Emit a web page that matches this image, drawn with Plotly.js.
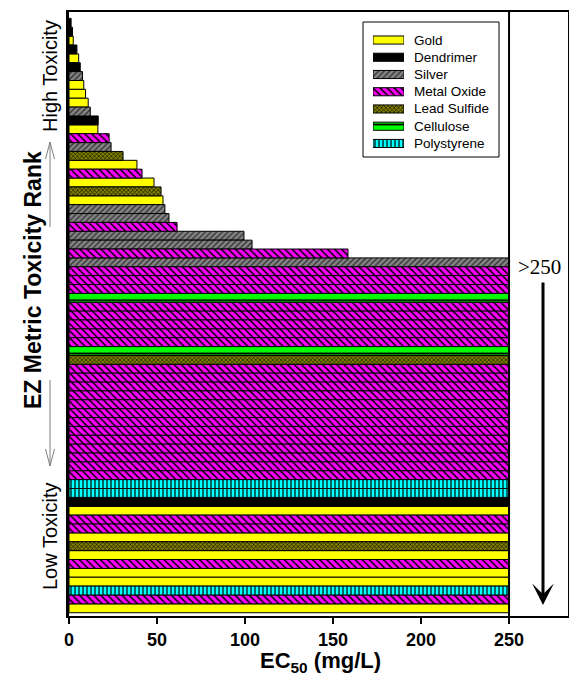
<!DOCTYPE html>
<html><head><meta charset="utf-8">
<script src="https://cdn.plot.ly/plotly-3.0.1.min.js"></script>
<style>html,body{margin:0;padding:0;background:#fff}#chart{width:569px;height:681px}</style>
</head><body><div id="chart"></div>
<script>
// ---- data ----
const materials = ["Gold","Dendrimer","Silver","Metal Oxide","Lead Sulfide","Cellulose","Polystyrene"];
// material of each ranked bar, from most toxic (rank 1, top) to least toxic (bottom)
const rankMaterial = [
  "Dendrimer","Dendrimer","Gold","Dendrimer","Gold","Dendrimer","Silver","Gold","Gold","Gold",
  "Silver","Dendrimer","Gold","Metal Oxide","Silver","Lead Sulfide","Gold","Metal Oxide","Gold","Lead Sulfide",
  "Gold","Silver","Silver","Metal Oxide","Silver","Silver","Metal Oxide","Silver","Metal Oxide","Metal Oxide",
  "Metal Oxide","Cellulose","Metal Oxide","Metal Oxide","Metal Oxide","Metal Oxide","Metal Oxide","Cellulose","Lead Sulfide","Metal Oxide",
  "Metal Oxide","Metal Oxide","Metal Oxide","Metal Oxide","Metal Oxide","Metal Oxide","Metal Oxide","Metal Oxide","Metal Oxide","Metal Oxide",
  "Metal Oxide","Metal Oxide","Polystyrene","Polystyrene","Dendrimer","Gold","Metal Oxide","Metal Oxide","Gold","Lead Sulfide",
  "Gold","Metal Oxide","Gold","Gold","Polystyrene","Metal Oxide","Gold"
];
// EC50 (mg/L); values > 250 are drawn at 250
const ec50 = [
  1.2, 2.0, 2.4, 4.5, 5.5, 6.4, 7.7, 8.4, 9.4, 10.9,
  12.1, 16.6, 16.4, 22.8, 23.9, 30.7, 38.6, 41.5, 48.3, 52.3,
  53.4, 54.5, 56.8, 61.4, 99.4, 104, 158.5, 250, 250, 250,
  250, 250, 250, 250, 250, 250, 250, 250, 250, 250,
  250, 250, 250, 250, 250, 250, 250, 250, 250, 250,
  250, 250, 250, 250, 250, 250, 250, 250, 250, 250,
  250, 250, 250, 250, 250, 250, 250
];
const xTickVals = [0, 50, 100, 150, 200, 250];
const xTickText = ["0", "50", "100", "150", "200", "250"];

// ---- styles ----
const styles = {
  "Gold":        {bg:"#FFFF00", fg:"#000000", shape:"",   size:8, sol:0.3},
  "Dendrimer":   {bg:"#000000", fg:"#000000", shape:"",   size:8, sol:0.3},
  "Silver":      {bg:"#858585", fg:"#333333", shape:"/",  size:4, sol:0.35},
  "Metal Oxide": {bg:"#FF00FF", fg:"#000000", shape:"\\", size:5, sol:0.3},
  "Lead Sulfide":{bg:"#808000", fg:"#000000", shape:"x",  size:3, sol:0.35},
  "Cellulose":   {bg:"#00FF00", fg:"#000000", shape:"-",  size:8.87, sol:0.2},
  "Polystyrene": {bg:"#00FFFF", fg:"#000000", shape:"|",  size:4, sol:0.3}
};

const L = 69, R = 568, T = 12, B = 616;
const px2x = p => (p - L) / (R - L);
const py2y = p => (B - p) / (B - T);
const FONT = "Liberation Sans, Arial, Helvetica, sans-serif";

function mk(m, xs, ys, xa, ya, w) {
  const s = styles[m];
  return {
    type: "bar", orientation: "h", name: m, x: xs, y: ys, width: w,
    xaxis: xa, yaxis: ya, showlegend: false, hoverinfo: "skip",
    marker: {
      color: s.bg,
      line: {color: "#000", width: 1},
      pattern: {shape: s.shape, fgcolor: s.fg, bgcolor: s.bg, size: s.size, solidity: s.sol, fillmode: "replace"}
    }
  };
}

const traces = [];
materials.forEach(m => {
  const xs = [], ys = [];
  rankMaterial.forEach((mm, i) => { if (mm === m) { xs.push(ec50[i]); ys.push(i + 1); } });
  traces.push(mk(m, xs, ys, "x", "y", 1));
});
// legend swatches drawn on a small second axis
materials.forEach((m, i) => traces.push(mk(m, [1], [i], "x2", "y2", 0.47)));

const legTop = 31.4, legPitch = 17.24;
function txt(x, y, text, font, extra) {
  return Object.assign({xref:"paper", yref:"paper", x:px2x(x), y:py2y(y), xanchor:"center", yanchor:"middle",
    showarrow:false, text:text, font:font}, extra || {});
}
const annotations = materials.map((m, i) =>
  txt(412, legTop + (i + 0.5) * legPitch, m, {family: FONT, size: 13.5, color: "#000"}, {xanchor: "left"}));
annotations.push(
  txt(320, 662, "EC<sub>50</sub> (mg/L)", {family:FONT, size:22, weight:"bold", color:"#000"}),
  txt(33, 280, "EZ Metric Toxicity Rank", {family:FONT, size:23, weight:"bold", color:"#000"}, {textangle:-90}),
  txt(50, 76, "High Toxicity", {family:FONT, size:20, color:"#000"}, {textangle:-90}),
  txt(50, 537, "Low Toxicity", {family:FONT, size:20, color:"#000"}, {textangle:-90}),
  txt(539, 267, ">250", {family:"Liberation Serif, Times New Roman, serif", size:21, color:"#000"}),
  {xref:"paper", yref:"paper", x:px2x(543), y:py2y(605), ax:0, ay:-324, axref:"pixel", ayref:"pixel",
   showarrow:true, text:"", arrowhead:3, arrowsize:1.2, arrowwidth:3, arrowcolor:"#000"}
);

const gray = {color:"#808080", width:1};
function ln(x0, y0, x1, y1, line) {
  return {type:"line", xref:"paper", yref:"paper", x0:px2x(x0), y0:py2y(y0), x1:px2x(x1), y1:py2y(y1), line:line, layer:"above"};
}
const shapes = [
  {type:"rect", xref:"paper", yref:"paper", x0:px2x(363), x1:px2x(499), y0:py2y(157), y1:py2y(22),
   line:{color:"#000", width:1}, fillcolor:"#fff", layer:"below"},
  {type:"line", xref:"x", yref:"paper", x0:250, x1:250, y0:0, y1:1, line:{color:"#000", width:2}, layer:"above"},
  ln(50, 227, 50, 142, gray), ln(50, 142, 45.5, 159, gray), ln(50, 142, 54.5, 159, gray),
  ln(50, 380, 50, 466, gray), ln(50, 466, 45.5, 449, gray), ln(50, 466, 54.5, 449, gray)
];

const layout = {
  width: 569, height: 681,
  margin: {l: L, r: 569 - R, t: T, b: 681 - B, pad: 0},
  paper_bgcolor: "#fff", plot_bgcolor: "#fff",
  showlegend: false, barmode: "overlay", bargap: 0,
  xaxis: {
    range: [0, 283.5], showline: true, linecolor: "#000", linewidth: 2, mirror: true,
    ticks: "outside", ticklen: 6, tickwidth: 1.5, tickcolor: "#000",
    tickvals: xTickVals, ticktext: xTickText,
    tickfont: {family: FONT, size: 18, weight: "bold", color: "#000"},
    showgrid: false, zeroline: false, fixedrange: true
  },
  yaxis: {
    range: [67.87, -0.22], showline: true, linecolor: "#000", linewidth: 3, mirror: true,
    ticks: "", showticklabels: false, showgrid: false, zeroline: false, fixedrange: true
  },
  xaxis2: {domain: [px2x(373), px2x(404)], range: [0, 1], anchor: "y2", visible: false, fixedrange: true},
  yaxis2: {domain: [py2y(legTop + 7 * legPitch), py2y(legTop)], range: [6.5, -0.5], anchor: "x2", visible: false, fixedrange: true},
  shapes: shapes,
  annotations: annotations
};

Plotly.newPlot("chart", traces, layout, {displayModeBar: false, staticPlot: true});
</script>
</body></html>
